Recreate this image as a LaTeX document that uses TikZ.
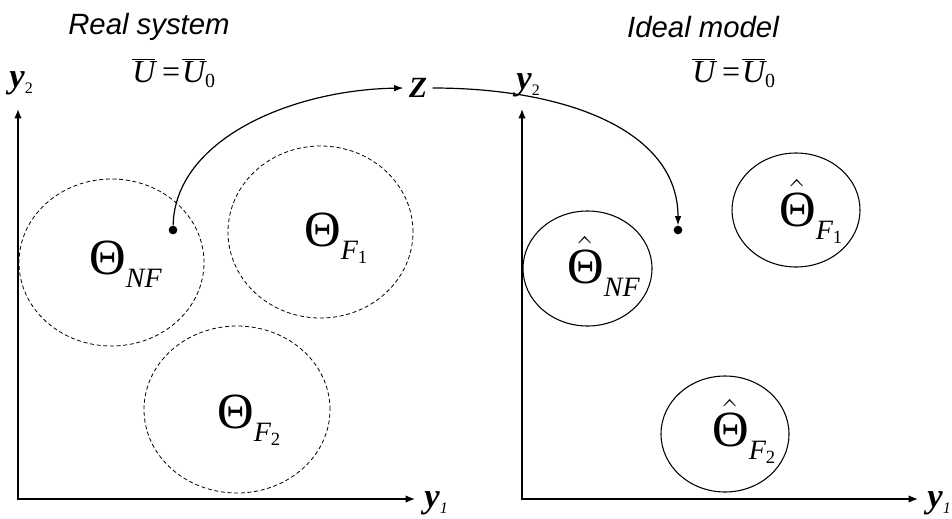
\RequirePackage{fix-cm}
\documentclass[tikz,border=0pt]{standalone}
\usepackage{fontspec}
\setmainfont{Liberation Serif}
\newfontfamily\arialfont{Liberation Sans}
\usetikzlibrary{shapes.geometric,arrows.meta}
\newcommand\ThSub[1]{\fontsize{38}{42}\selectfont Θ\raisebox{-10pt}{\fontsize{21}{24}\selectfont\itshape #1}}
\newcommand\ThHat[1]{\fontsize{38}{42}\selectfont$\hat{\hbox{Θ}}$\raisebox{-10pt}{\fontsize{21}{24}\selectfont\itshape #1}}
\newcommand\SubNum[1]{\raisebox{-3pt}{\fontsize{14}{16}\selectfont\upshape #1}}
\newcommand\Ueq{$\overline{\hbox{\itshape U}}$\hspace{5pt}=\hspace{1.5pt}$\overline{\hbox{\itshape U}}$\raisebox{-4pt}{\fontsize{15}{17}\selectfont 0}}
\begin{document}
\begin{tikzpicture}[x=0.75pt,y=-0.75pt,
  axis/.style={line width=1pt,{Latex[length=7pt,width=5.5pt]}-{Latex[length=7pt,width=5.5pt]}},
  conn/.style={line width=0.9pt,-{Latex[length=7pt,width=5pt]}},
  dregion/.style={ellipse,draw,dashed,dash pattern=on 3pt off 2pt,line width=0.6pt,inner sep=0},
  sregion/.style={ellipse,draw,line width=0.8pt,inner sep=0},
  dotnode/.style={circle,fill=black,inner sep=0,minimum size=6.5pt},
  lab/.style={anchor=base west,inner sep=0},
  title/.style={font=\arialfont\itshape\fontsize{22}{26}\selectfont},
  ylab/.style={anchor=base west,inner sep=0,font=\fontsize{26}{30}\selectfont}
]
\useasboundingbox (0,0) rectangle (952,518);

% titles
\node[title] (t1) at (149,27) {Real system};
\node[title] (t2) at (703,27) {Ideal model};

% equations
\node[lab,font=\fontsize{24}{28}\selectfont] (u1) at (132,82) {\Ueq};
\node[lab,font=\fontsize{24}{28}\selectfont] (u2) at (692,82) {\Ueq};

% axes
\coordinate (o1) at (18,499);
\coordinate (x1e) at (415,499);
\coordinate (y1e) at (18,109);
\draw[axis] (y1e) -- (o1) -- (x1e);
\coordinate (o2) at (522,499);
\coordinate (x2e) at (918,499);
\coordinate (y2e) at (522,109);
\draw[axis] (y2e) -- (o2) -- (x2e);

% axis labels
\node[ylab] (ly2a) at (9,87) {\textbf{\textit{y}}\raisebox{-5pt}{\fontsize{12}{14}\selectfont 2}};
\node[ylab] (ly1a) at (424,507) {\textbf{\textit{y}}\raisebox{-5pt}{\fontsize{12}{14}\selectfont\itshape 1}};
\node[ylab] (ly2b) at (516,89) {\textbf{\textit{y}}\raisebox{-5pt}{\fontsize{12}{14}\selectfont 2}};
\node[ylab] (ly1b) at (927,507) {\textbf{\textit{y}}\raisebox{-5pt}{\fontsize{12}{14}\selectfont\itshape 1}};

% real system regions
\node[dregion,minimum width=138.75pt,minimum height=125.25pt] (rNF) at (111.5,262.5) {};
\node[dregion,minimum width=138.75pt,minimum height=129pt] (rF1) at (320.5,232) {};
\node[dregion,minimum width=139.5pt,minimum height=125.25pt] (rF2) at (237,409.5) {};
\node[lab] (lNF) at (89,274) {\ThSub{NF}};
\node[lab] (lF1) at (304,246) {\ThSub{F\SubNum{1}}};
\node[lab] (lF2) at (217,428) {\ThSub{F\SubNum{2}}};

% ideal model regions
\node[sregion,minimum width=96.75pt,minimum height=86.25pt] (mNF) at (587.5,268.5) {};
\node[sregion,minimum width=96pt,minimum height=85.5pt] (mF1) at (796,210) {};
\node[sregion,minimum width=96pt,minimum height=87pt] (mF2) at (725,434) {};
\node[lab] (hNF) at (567,283) {\ThHat{NF}};
\node[lab] (hF1) at (779,226) {\ThHat{F\SubNum{1}}};
\node[lab] (hF2) at (712,446) {\ThHat{F\SubNum{2}}};

% Z and connectors
\node[inner sep=4pt,font=\fontsize{22}{25}\selectfont\bfseries\itshape] (Z) at (418,88) {Z};
\node[dotnode] (d1) at (173,230) {};
\node[dotnode] (d2) at (678,230) {};
\draw[conn] (d1) .. controls (175,140) and (290,90) .. (Z.west);
\draw[conn] (Z.east) .. controls (565,88) and (678,130) .. (d2);
\end{tikzpicture}
\end{document}
